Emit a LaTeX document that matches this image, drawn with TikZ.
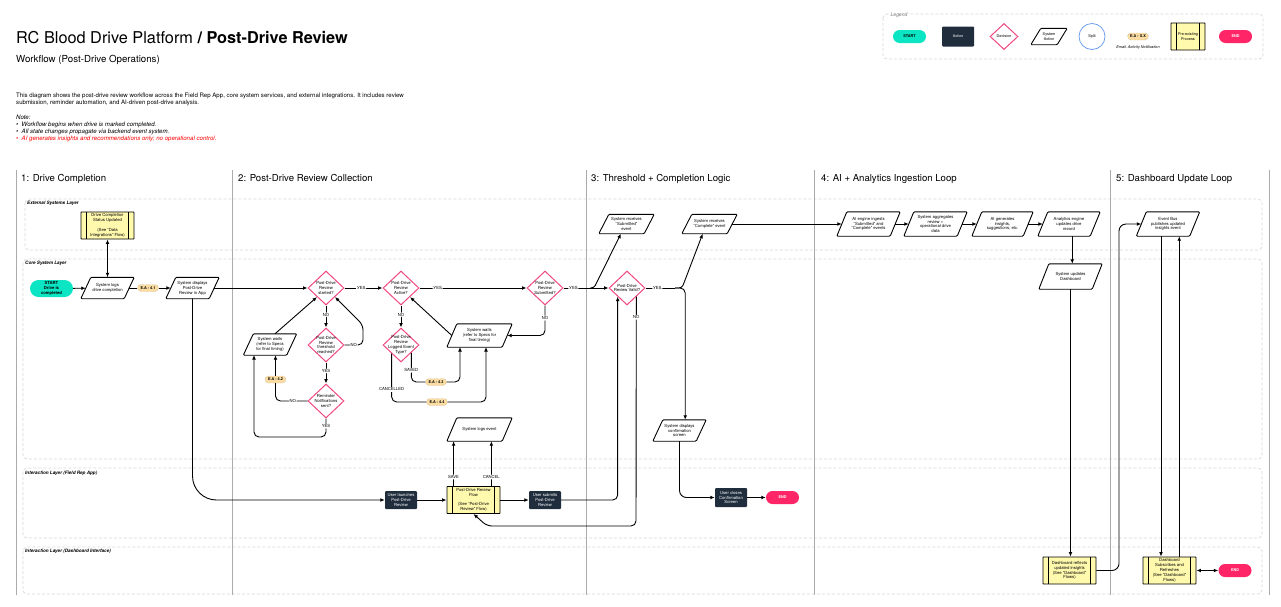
\documentclass[tikz,border=0pt]{standalone}
\usepackage{fontspec}
\setmainfont{TeX Gyre Heros}
\usetikzlibrary{arrows.meta,shapes.geometric,shapes.misc}

\definecolor{tealfill}{HTML}{0BE5C3}
\definecolor{endred}{HTML}{FF2566}
\definecolor{navyfill}{HTML}{1F2D3D}
\definecolor{pinkline}{HTML}{F0487F}
\definecolor{paleyellow}{HTML}{FFF9AE}
\definecolor{badge}{HTML}{FBDDA3}
\definecolor{dashgray}{HTML}{D6D6D6}
\definecolor{colgray}{HTML}{ABABAB}
\definecolor{splitblue}{HTML}{6E9FEF}

\newcommand\nodesize{\fontsize{4.2}{4.9}\selectfont}
\newcommand\legsize{\fontsize{3.8}{4.6}\selectfont}
\newcommand\layersize{\fontsize{4.6}{5.5}\selectfont\bfseries\itshape}
\newcommand\parasize{\fontsize{6.1}{7.2}\selectfont}
\newcommand\colsize{\fontsize{9.6}{12}\selectfont}

\begin{document}
\begin{tikzpicture}[x=1pt,y=-1pt]
    \tikzset{
        flow/.style={line width=.9pt,rounded corners=5pt,-{Latex[length=4.5pt,width=3.8pt]}},
        plainflow/.style={line width=.9pt,rounded corners=5pt},
        bothflow/.style={line width=.9pt,{Latex[length=4.5pt,width=3.8pt]}-{Latex[length=4.5pt,width=3.8pt]}},
        lab/.style={fill=white,font=\nodesize,inner sep=.8pt},
        layer/.style={draw=dashgray,dash pattern=on 3pt off 2pt,line width=.7pt,rounded corners=4pt},
        collinewidth/.style={draw=colgray,line width=1pt},
        layertext/.style={font=\layersize,anchor=base west,inner sep=0pt},
        coltext/.style={font=\colsize,anchor=base west,inner sep=0pt},
        startpill/.style={rounded rectangle,fill=tealfill,font=\nodesize\bfseries,align=center,inner sep=0pt,minimum width=43pt,minimum height=17pt},
        endpill/.style={rounded rectangle,fill=endred,text=white,font=\legsize\bfseries,inner sep=0pt,minimum width=33pt,minimum height=13pt},
        actbox/.style={rectangle,rounded corners=1pt,fill=navyfill,text=white,font=\nodesize,align=center,inner sep=0pt,minimum width=32pt,minimum height=18pt},
        decis/.style={diamond,draw=pinkline,line width=1pt,fill=white,font=\nodesize,align=center,inner sep=-5pt,minimum width=36pt,minimum height=34pt},
        sysact/.style={rectangle,font=\nodesize,align=center,inner sep=0pt,minimum width=43pt,minimum height=21pt,
            append after command={\pgfextra{\draw[line width=.9pt,rounded corners=1pt]
                ([xshift=5pt]\tikzlastnode.north west) -- ([xshift=5pt]\tikzlastnode.north east)
                -- ([xshift=-5pt]\tikzlastnode.south east) -- ([xshift=-5pt]\tikzlastnode.south west) -- cycle;}}},
        preproc/.style={rectangle,draw,line width=.9pt,rounded corners=.5pt,fill=paleyellow,font=\nodesize,align=center,inner sep=0pt,minimum width=53pt,minimum height=27pt,
            path picture={\draw[line width=.7pt]
                ([xshift=5.5pt]path picture bounding box.north west) -- ([xshift=5.5pt]path picture bounding box.south west)
                ([xshift=-5.5pt]path picture bounding box.north east) -- ([xshift=-5.5pt]path picture bounding box.south east);}},
        eabadge/.style={rounded rectangle,draw=badge!65!black,densely dotted,line width=.4pt,fill=badge,font=\legsize\bfseries,inner sep=0pt,minimum width=21pt,minimum height=7pt}
    }

    \useasboundingbox (0,0) rectangle (1281,606);

    % swimlane layers
    \draw[layer] (25,199) rectangle (1262,250);
    \draw[layer] (23,259) rectangle (1262,459);
    \draw[layer] (23,468) rectangle (1262,538);
    \draw[layer] (23,547) rectangle (1262,594);
    \node[layertext] (extlayer) at (27,204.5) {External Systems Layer};
    \node[layertext] (corelayer) at (25,264.5) {Core System Layer};
    \node[layertext] (fieldlayer) at (25,474.5) {Interaction Layer (Field Rep App)};
    \node[layertext] (dashlayer) at (25,552.5) {Interaction Layer (Dashboard Interface)};

    % columns
    \draw[collinewidth] (16,170) -- (16,595);
    \draw[collinewidth] (232,170) -- (232,595);
    \draw[collinewidth] (586,170) -- (586,595);
    \draw[collinewidth] (814,170) -- (814,595);
    \draw[collinewidth] (1110,170) -- (1110,595);
    \draw[collinewidth] (1269,170) -- (1269,595);
    \node[coltext] (col1) at (21,181.5) {1: Drive Completion};
    \node[coltext] (col2) at (238,181.5) {2: Post-Drive Review Collection};
    \node[coltext] (col3) at (591,181.5) {3: Threshold + Completion Logic};
    \node[coltext] (col4) at (821,181.5) {4: AI + Analytics Ingestion Loop};
    \node[coltext] (col5) at (1116,181.5) {5: Dashboard Update Loop};

    % heading
    \node[anchor=base west,inner sep=0pt,font=\fontsize{16.3}{20}\selectfont] (title) at (16,43) {RC Blood Drive Platform \textbf{/ Post-Drive Review}};
    \node[anchor=base west,inner sep=0pt,font=\fontsize{9.7}{12}\selectfont] (subtitle) at (16,62.5) {Workflow (Post-Drive Operations)};
    \node[anchor=north west,inner sep=0pt,align=left,font=\parasize] (intro) at (16,92.5) {This diagram shows the post-drive review workflow across the Field Rep App, core system services, and external integrations. It includes review\\submission, reminder automation, and AI-driven post-drive analysis.};
    \node[anchor=north west,inner sep=0pt,align=left,font=\parasize\itshape] (notes) at (16,114.5) {Note:\\\textbullet\ \ Workflow begins when drive is marked completed.\\\textbullet\ \ All state changes propagate via backend event system.\\\textcolor{red}{\textbullet\ \ AI generates insights and recommendations only; no operational control.}};

    % legend
    \draw[layer] (883,14) rectangle (1263,59);
    \node[fill=white,inner sep=1pt,text=black!55,font=\fontsize{5}{6}\selectfont\itshape] (legtitle) at (899,15) {Legend};
    \node[startpill,minimum width=33pt,minimum height=13pt,font=\legsize\bfseries] (legstart) at (909.5,36.5) {START};
    \node[actbox,minimum height=20pt,font=\legsize] (legact) at (958,36.5) {Action};
    \node[decis,minimum width=28pt,minimum height=26pt,font=\legsize] (legdec) at (1004,36.5) {Decision};
    \node[sysact,minimum width=26pt,minimum height=16pt,font=\legsize] (legsys) at (1049,36.5) {System\\Action};
    \node[circle,draw=splitblue,line width=.8pt,minimum size=26pt,inner sep=0pt,font=\legsize] (legsplit) at (1092,36.5) {Split};
    \node[eabadge] (legea) at (1138,36.5) {E.A - X.X};
    \node[font=\legsize\itshape,inner sep=0pt] (legeatext) at (1138,48) {Email, Activity Notification};
    \node[preproc,minimum width=34pt,minimum height=27pt,font=\legsize] (legpre) at (1188,36.5) {Pre-existing\\Process};
    \node[endpill] (legend) at (1235.5,36.5) {END};

    % step 1
    \node[preproc] (status) at (107.5,225.5) {Drive Completion\\Status Updated\\[4.9pt](See ``Data\\Integrations'' Flow)};
    \node[startpill] (start) at (51.5,288.5) {START\\Drive is\\completed};
    \node[sysact] (syslog) at (107.5,288) {System logs\\drive completion};
    \node[eabadge] (eaone) at (148,288) {E.A - 4.1};
    \node[sysact] (sysdisp) at (192.5,288) {System displays\\Post-Drive\\Review in App};

    % step 2
    \node[decis] (drvstart) at (326,288) {Post-Drive\\Review\\started?};
    \node[decis] (drvthres) at (326,345) {Post-Drive\\Review\\threshold\\reached?};
    \node[decis] (drvremind) at (326,401) {Reminder\\Notifications\\sent?};
    \node[sysact] (waitleft) at (270,344.5) {System waits\\(refer to Specs\\for final timing)};
    \node[eabadge] (eatwo) at (275.5,379.5) {E.A - 4.2};
    \node[decis] (drvact) at (401,288) {Post-Drive\\Review\\Active?};
    \node[decis] (drvlog) at (401,345) {Post-Drive\\Review\\Logged Event\\Type?};
    \node[eabadge] (eathree) at (436,382) {E.A - 4.3};
    \node[eabadge] (eafour) at (437,402) {E.A - 4.4};
    \node[decis] (drvsub) at (545,288) {Post-Drive\\Review\\Submitted?};
    \node[sysact,minimum width=55pt,minimum height=23pt] (waitright) at (479.5,335.5) {System waits\\(refer to Specs for\\final timing)};
    \node[sysact,minimum width=55pt,minimum height=23pt] (syslogev) at (479.5,429.5) {System logs event};
    \node[actbox] (launch) at (401,500) {User launches\\Post-Drive\\Review};
    \node[preproc] (flowrev) at (473.5,500) {Post-Drive Review\\Flow\\[4.9pt](See ``Post-Drive\\Review'' Flow)};
    \node[actbox] (submit) at (545,500) {User submits\\Post-Drive\\Review};

    % step 3
    \node[sysact,minimum width=45pt,minimum height=19pt] (recvsub) at (626.5,224) {System receives\\``Submitted''\\event};
    \node[sysact,minimum width=45pt,minimum height=19pt] (recvcom) at (709.5,224) {System receives\\``Complete'' event};
    \node[decis] (drvval) at (627,288) {Post-Drive\\Review Valid?};
    \node[sysact] (confirm) at (679.5,430.5) {System displays\\confirmation\\screen};
    \node[actbox,minimum height=19pt] (closeconf) at (731,497.5) {User closes\\Confirmation\\Screen};
    \node[endpill] (endone) at (782.5,497.5) {END};

    % step 4
    \node[sysact,minimum width=53pt,minimum height=24pt] (ingest) at (868.5,224) {AI engine ingests\\``Submitted'' and\\``Complete'' events};
    \node[sysact,minimum width=53pt,minimum height=24pt] (aggreg) at (935.5,224) {System aggregates\\review +\\operational drive\\data};
    \node[sysact,minimum width=51pt,minimum height=24pt] (aigen) at (1002.5,224) {AI generates\\insights,\\suggestions, etc.};
    \node[sysact,minimum width=52pt,minimum height=24pt] (analytics) at (1069,224) {Analytics engine\\updates drive\\record};
    \node[sysact,minimum width=53pt,minimum height=25pt] (sysdash) at (1070.5,276.5) {System updates\\Dashboard};
    \node[preproc] (reflects) at (1069.5,570.5) {Dashboard reflects\\updated insights\\(See ``Dashboard''\\Flows)};

    % step 5
    \node[sysact,minimum width=53pt,minimum height=24pt] (evbus) at (1168,224) {Event Bus\\publishes updated\\insights event};
    \node[preproc] (subscr) at (1169.5,570.5) {Dashboard\\Subscribes and\\Refreshes\\(See ``Dashboard''\\Flows)};
    \node[endpill] (endtwo) at (1235,570.5) {END};

    \coordinate (splitsub) at (590,288);
    \coordinate (splitval) at (675,288);
    \coordinate (waitin) at (254,355);

    \draw[flow] (start) -- (syslog);
    \draw[bothflow] (status.south) -- (syslog.north);
    \draw[plainflow] (syslog.east) -- (eaone.west);
    \draw[flow] (eaone.east) -- (sysdisp.west);
    \draw[flow] (sysdisp.east) -- (drvstart.west);
    \draw[flow,rounded corners=24pt] (sysdisp.south) |- (launch.west);

    \draw[flow] (drvstart.east) -- node[lab,pos=.44]{YES} (drvact.west);
    \draw[flow] (drvstart.south) -- node[lab,pos=.42]{NO} (drvthres.north);
    \draw[flow] (drvthres.south) -- node[lab,pos=.4]{YES} (drvremind.north);
    \draw[flow] (drvthres.east) -- node[lab,pos=.5]{NO} (363,345) -- (363,325) -- (drvstart.-45);
    \draw[flow] (waitleft.65) -- (drvstart.-135);
    \draw[plainflow] (drvremind.west) -| node[lab,pos=.23]{NO} (eatwo.south);
    \draw[flow] (eatwo.north) -- (eatwo.north |- waitleft.south);
    \draw[flow] (drvremind.south) -- node[lab,pos=.42]{YES} (326,437) -- (254,437) -- (waitin);

    \draw[flow] (drvact.east) -- node[lab,pos=.17]{YES} (drvsub.west);
    \draw[flow] (drvact.south) -- node[lab,pos=.42]{NO} (drvlog.north);
    \draw[plainflow] (drvlog.-37) |- node[lab,pos=.3]{SAVED} (eathree.west);
    \draw[flow] (eathree.east) -| (460,347);
    \draw[plainflow] (drvlog.223) |- node[lab,pos=.37]{CANCELLED} (eafour.west);
    \draw[flow] (eafour.east) -| (486,347);
    \draw[flow] (waitright.west) -- (drvact.-45);
    \draw[flow] (drvsub.south) |- node[lab,pos=.21]{NO} (waitright.east);

    \draw[flow] (launch.east) -- (flowrev.west);
    \draw[flow] (flowrev.east) -- (submit.west);
    \draw[flow] (flowrev.145) -- node[lab,pos=.2]{SAVE} (flowrev.145 |- syslogev.south);
    \draw[flow] (flowrev.38) -- node[lab,pos=.2]{CANCEL} (flowrev.38 |- syslogev.south);
    \draw[flow] (submit.east) -| (drvval.-137);
    \draw[flow] (drvval.-43) -- node[lab,pos=.09]{NO} (636,526) -- (487,526) -- (flowrev.south);

    \draw[flow] (drvsub.east) -- node[lab,pos=.22]{YES} (drvval.west);
    \draw[flow,rounded corners=3pt] (splitsub) -- (594,288) -- (recvsub.-120);
    \draw[plainflow] (drvval.east) -- node[lab,pos=.4]{YES} (splitval);
    \draw[flow,rounded corners=3pt] (splitval) -- (682,288) -- (recvcom.-125);
    \draw[flow] (splitval) -| (confirm.62);
    \draw[flow,rounded corners=7pt] (confirm.south) |- (closeconf.west);
    \draw[flow] (closeconf.east) -- (endone.west);

    \draw[flow] (recvcom.east) -- (ingest.west);
    \draw[flow] (ingest.east) -- (aggreg.west);
    \draw[flow] (aggreg.east) -- (aigen.west);
    \draw[flow] (aigen.east) -- (analytics.west);
    \draw[flow] (analytics.-75) -- (analytics.-75 |- sysdash.north);
    \draw[flow] (sysdash.south) -- (sysdash.south |- reflects.north);
    \draw[flow,rounded corners=7pt] (reflects.east) -| (1119,224) -- (evbus.west);
    \draw[flow] (evbus.-120) -- (evbus.-120 |- subscr.north);
    \draw[flow] (subscr.55) -- (subscr.55 |- evbus.south);
    \draw[bothflow] (subscr.east) -- (endtwo.west);
\end{tikzpicture}
\end{document}
